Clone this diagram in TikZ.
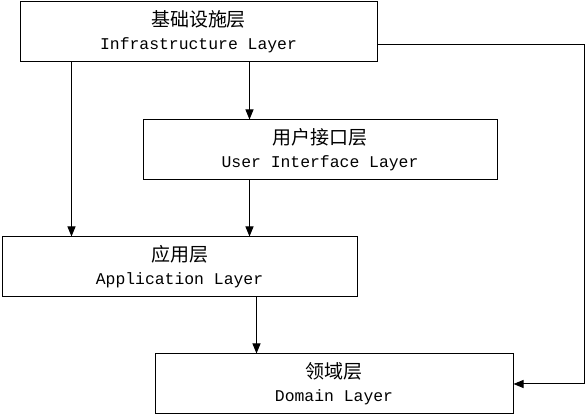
\documentclass[tikz,border=0pt]{standalone}
\usepackage{fontspec}
\setmonofont{Liberation Mono}
\newfontfamily\cjk{Noto Sans CJK SC}
\usetikzlibrary{arrows.meta, positioning, calc}

\begin{document}
\begin{tikzpicture}[
    x=1pt, y=1pt,
    every node/.style={font=\ttfamily\fontsize{16.4}{20}\selectfont},
    layer/.style={rectangle, draw, line width=1pt, minimum height=60pt,
                  align=center, inner sep=0pt},
    arr/.style={-{Triangle[length=10pt, width=8pt]}, line width=1pt}
]
    \useasboundingbox (0,0) rectangle (587,417);
    \node[layer, minimum width=357pt] (infra) at (198.5,385)
        {{\cjk\fontsize{19}{20}\selectfont 基础设施层}\\[3pt]Infrastructure Layer};
    \node[layer, minimum width=354pt] (ui) at (320,267)
        {{\cjk\fontsize{19}{20}\selectfont 用户接口层}\\[3pt]User Interface Layer};
    \node[layer, minimum width=355pt] (app) at (179.5,150)
        {{\cjk\fontsize{19}{20}\selectfont 应用层}\\[3pt]Application Layer};
    \node[layer, minimum width=358pt] (dom) at (334,33)
        {{\cjk\fontsize{19}{20}\selectfont 领域层}\\[3pt]Domain Layer};
    % downward flow
    \draw[arr] ([xshift=52pt]infra.south west) -- ([xshift=52pt]infra.south west |- app.north);
    \draw[arr] ([xshift=230pt]infra.south west) -- ([xshift=230pt]infra.south west |- ui.north);
    \draw[arr] ([xshift=107pt]ui.south west) -- ([xshift=107pt]ui.south west |- app.north);
    \draw[arr] ([xshift=255pt]app.south west) -- ([xshift=255pt]app.south west |- dom.north);
    % side link to the domain
    \draw[arr] ([yshift=-13pt]infra.east) -- ++(207pt,0) |- (dom.east);
\end{tikzpicture}
\end{document}
